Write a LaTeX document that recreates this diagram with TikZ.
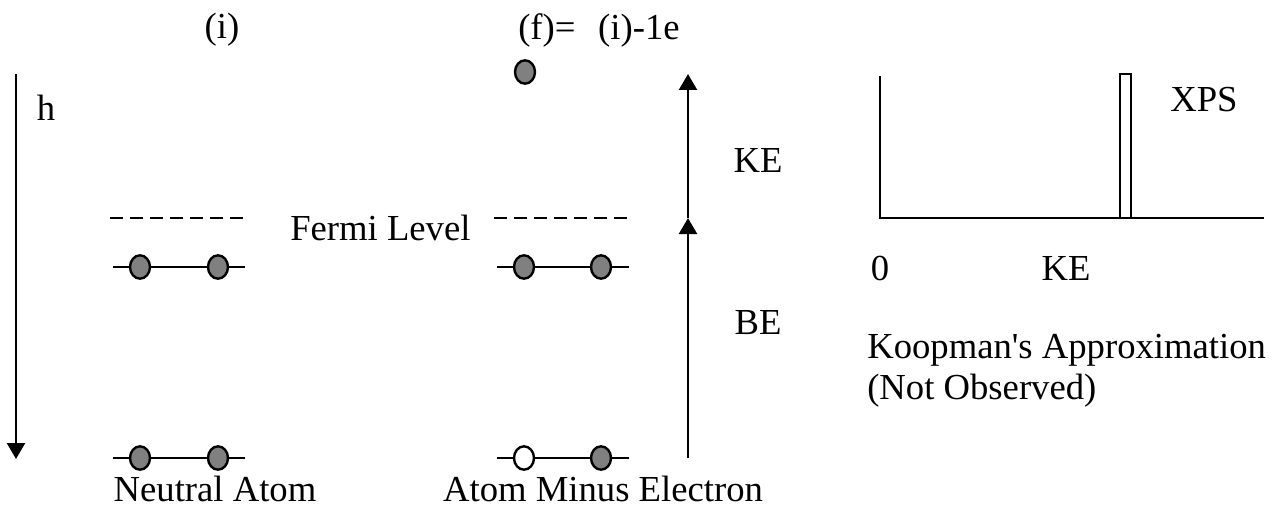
\documentclass[tikz,border=0pt]{standalone}
\usepackage{fontspec}
\setmainfont{Liberation Serif}
\usetikzlibrary{arrows.meta,shapes.geometric}
\begin{document}
\begin{tikzpicture}[x=0.75pt,y=-0.75pt,
  lbl/.style={inner sep=0pt, font=\fontsize{27.5}{33}\selectfont},
  lvl/.style={line width=1.6pt},
  fermi/.style={line width=1.4pt, dash pattern=on 10pt off 5pt},
  elec/.style={ellipse, draw, line width=1.8pt, fill=gray, minimum width=15pt, minimum height=17.5pt, inner sep=0pt},
  hole/.style={elec, fill=white},
  axis/.style={line width=1.8pt},
  arr/.style={line width=1.7pt, -{Triangle[width=13.5pt,length=12pt]}}]
\useasboundingbox (0,0) rectangle (1281,510);
% headings
\node[lbl] (hi) at (222,30) {(i)};
\node[lbl, anchor=west] (hf) at (518,30) {(f)=\hspace{17pt}(i)-1e};
% h arrow
\coordinate (ht) at (16,74);
\coordinate (hb) at (16,459);
\draw[arr] (ht) -- (hb);
\node[lbl] (h) at (46,108) {h};
% fermi levels
\coordinate (fl1) at (110,218); \coordinate (fl2) at (248,218);
\coordinate (fr1) at (494,218); \coordinate (fr2) at (632,218);
\draw[fermi] (fl1) -- (fl2);
\draw[fermi] (fr1) -- (fr2);
\node[lbl, anchor=west] (fermitxt) at (290,228) {Fermi Level};
% upper levels
\coordinate (ul1) at (113,267); \coordinate (ul2) at (245,267);
\coordinate (ur1) at (497,267); \coordinate (ur2) at (629,267);
\draw[lvl] (ul1) -- (ul2);
\draw[lvl] (ur1) -- (ur2);
\node[elec] (e1) at (140,267) {};
\node[elec] (e2) at (218,267) {};
\node[elec] (e3) at (524,267) {};
\node[elec] (e4) at (601,267) {};
% lower levels
\coordinate (ll1) at (113,458); \coordinate (ll2) at (245,458);
\coordinate (lr1) at (497,458); \coordinate (lr2) at (629,458);
\draw[lvl] (ll1) -- (ll2);
\draw[lvl] (lr1) -- (lr2);
\node[elec] (e5) at (140,458) {};
\node[elec] (e6) at (218,458) {};
\node[hole] (e7) at (524,458) {};
\node[elec] (e8) at (601,458) {};
% ejected electron
\node[elec] (ej) at (525,72) {};
% labels
\node[lbl] (na) at (215,489) {Neutral Atom};
\node[lbl] (ame) at (603,489) {Atom Minus Electron};
% BE / KE arrow
\coordinate (ab) at (688,458);
\coordinate (am) at (688,218);
\coordinate (at) at (688,74);
\draw[arr] (ab) -- (am);
\draw[arr] (am) -- (at);
\node[lbl] (ke) at (758,160) {KE};
\node[lbl] (be) at (758,323) {BE};
% spectrum
\coordinate (o) at (880,218);
\coordinate (yt) at (880,76);
\coordinate (xr) at (1264,218);
\draw[axis] (yt) -- (o) -- (xr);
\coordinate (p1) at (1120,218);
\coordinate (p2) at (1131,74);
\draw[line width=1.4pt] (p1) rectangle (p2);
\node[lbl, anchor=west] (xps) at (1170,100) {XPS};
\node[lbl] (zero) at (880,268) {0};
\node[lbl] (kex) at (1066,268) {KE};
\node[lbl, anchor=west] (koop) at (867,350) {Koopman\textquotesingle s Approximation};
\node[lbl, anchor=west] (nobs) at (867,391) {(Not Observed)};
\end{tikzpicture}
\end{document}
